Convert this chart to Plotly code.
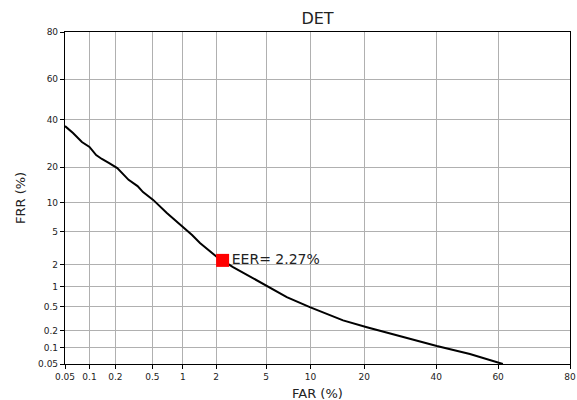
import plotly.graph_objects as go
from statistics import NormalDist

# Data (percent values)
far_pct = [0.05, 0.063, 0.081, 0.10, 0.12, 0.14, 0.17, 0.21, 0.28, 0.35, 0.40, 0.51,
           0.70, 1.0, 1.22, 1.44, 2.03, 2.77, 3.6, 5.1, 7.0, 9.9, 15.5, 20.6, 31.1,
           40.2, 50.9, 61.5]
frr_pct = [37.1, 33.9, 29.9, 27.8, 24.5, 23.0, 21.5, 19.7, 15.9, 14.1, 12.5, 10.6,
           7.9, 5.65, 4.6, 3.72, 2.51, 1.86, 1.45, 1.02, 0.70, 0.49, 0.30, 0.23, 0.15,
           0.108, 0.077, 0.05]
eer_pct = 2.27
tick_pct = [0.05, 0.1, 0.2, 0.5, 1, 2, 5, 10, 20, 40, 60, 80]
tick_text = ["0.05", "0.1", "0.2", "0.5", "1", "2", "5", "10", "20", "40", "60", "80"]

nd = NormalDist()
def probit(p):
    return nd.inv_cdf(p / 100.0)

xs = [probit(v) for v in far_pct]
ys = [probit(v) for v in frr_pct]
tickvals = [probit(v) for v in tick_pct]
lo, hi = probit(tick_pct[0]), probit(tick_pct[-1])

font = "DejaVu Sans"
fig = go.Figure()
fig.add_trace(go.Scatter(x=xs, y=ys, mode="lines", cliponaxis=True,
                         line=dict(color="black", width=2), showlegend=False))
fig.add_trace(go.Scatter(x=[probit(eer_pct)], y=[probit(eer_pct)], mode="markers+text",
                         marker=dict(symbol="square", color="red", size=13),
                         text=["EER= %.2f%%" % eer_pct], textposition="middle right",
                         textfont=dict(family=font, size=14, color="#222"),
                         showlegend=False))

axis_common = dict(range=[lo, hi], tickvals=tickvals, ticktext=tick_text,
                   showgrid=True, gridcolor="#b0b0b0", gridwidth=1,
                   showline=True, linecolor="black", linewidth=1.2, mirror=True,
                   ticks="outside", ticklen=4, tickcolor="black",
                   tickfont=dict(family=font, size=9, color="#222"),
                   zeroline=False, automargin=False)

fig.update_xaxes(**axis_common)
fig.update_yaxes(**axis_common)

fig.update_layout(
    width=577, height=400,
    margin=dict(l=65, r=7, t=32, b=36),
    plot_bgcolor="white", paper_bgcolor="white",
    title=dict(text="DET", x=317.5 / 577, xanchor="center", y=1 - 18 / 400, yanchor="middle",
               font=dict(family=font, size=16, color="#222")),
    annotations=[
        dict(text="FAR (%)", xref="paper", yref="paper", x=0.5, y=-29 / 332,
             xanchor="center", yanchor="middle", showarrow=False,
             font=dict(family=font, size=13, color="#222")),
        dict(text="FRR (%)", xref="paper", yref="paper", x=-45 / 505, y=0.5,
             xanchor="center", yanchor="middle", showarrow=False, textangle=-90,
             font=dict(family=font, size=13, color="#222")),
    ],
)

fig.write_html("out.html", config={"displayModeBar": False},
               post_script="document.body.style.margin='0';")
